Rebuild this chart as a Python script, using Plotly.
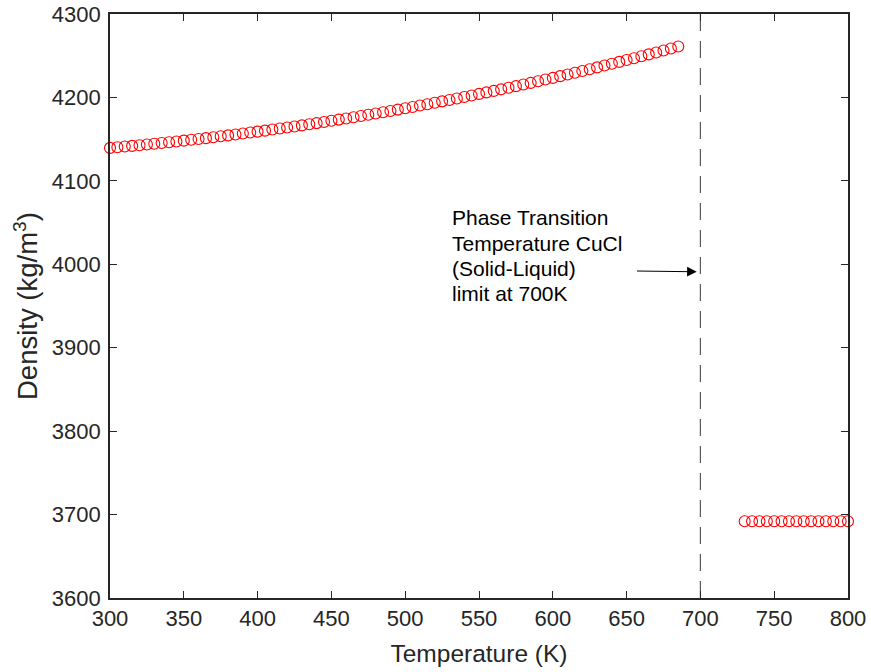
import plotly.graph_objects as go

# Solid-phase CuCl density (K, kg/m^3)
temp_solid = list(range(300, 690, 5))
density_solid = [
    4139.5, 4140.3, 4141.1, 4141.9, 4142.7, 4143.6, 4144.5, 4145.4, 4146.3, 4147.2,
    4148.2, 4149.2, 4150.2, 4151.2, 4152.3, 4153.4, 4154.5, 4155.6, 4156.7, 4157.9,
    4159.0, 4160.2, 4161.5, 4162.7, 4164.0, 4165.2, 4166.5, 4167.9, 4169.2, 4170.6,
    4172.0, 4173.4, 4174.8, 4176.3, 4177.7, 4179.2, 4180.7, 4182.3, 4183.8, 4185.4,
    4187.0, 4188.6, 4190.3, 4191.9, 4193.6, 4195.3, 4197.0, 4198.8, 4200.6, 4202.3,
    4204.2, 4206.0, 4207.8, 4209.7, 4211.6, 4213.5, 4215.5, 4217.4, 4219.4, 4221.4,
    4223.4, 4225.5, 4227.5, 4229.6, 4231.7, 4233.8, 4236.0, 4238.2, 4240.3, 4242.6,
    4244.8, 4247.0, 4249.3, 4251.6, 4253.9, 4256.3, 4258.6, 4261.0,
]

# Liquid-phase CuCl density
temp_liquid = list(range(730, 805, 5))
density_liquid = [3692.0] * len(temp_liquid)

transition_temp = 700
x_ticks = [300, 350, 400, 450, 500, 550, 600, 650, 700, 750, 800]
y_ticks = [3600, 3700, 3800, 3900, 4000, 4100, 4200, 4300]

# Note text, one entry per line, with the density level of each line
note_lines = ["Phase Transition", "Temperature CuCl", "(Solid-Liquid)", "limit at 700K"]
note_line_y = [4055.5, 4025.0, 3994.5, 3964.5]
note_x = 530.5

font_family = "Liberation Sans, Arial, sans-serif"
axis_color = "#262626"

marker_style = dict(symbol="circle-open", size=11, color="#ff0000",
                    line=dict(width=1.1, color="#ff0000"))

fig = go.Figure()

# Dashed vertical line at the phase transition temperature
fig.add_trace(go.Scatter(x=[transition_temp, transition_temp], y=[3600, 4300],
                         mode="lines", showlegend=False,
                         line=dict(color="#5a5a5a", width=1.2, dash="17px,10px")))

fig.add_trace(go.Scatter(x=temp_solid, y=density_solid, mode="markers",
                         marker=marker_style, showlegend=False, cliponaxis=False))
fig.add_trace(go.Scatter(x=temp_liquid, y=density_liquid, mode="markers",
                         marker=marker_style, showlegend=False, cliponaxis=False))

for line_text, line_y in zip(note_lines, note_line_y):
    fig.add_annotation(
        x=note_x, y=line_y, xref="x", yref="y", xanchor="left", yanchor="middle",
        align="left", showarrow=False, text=line_text,
        font=dict(family=font_family, size=21, color="#000000"),
    )

fig.add_annotation(
    x=697.5, y=3991, ax=656, ay=3992, xref="x", yref="y", axref="x", ayref="y",
    text="", showarrow=True, arrowhead=2, arrowsize=1.6, arrowwidth=1.2,
    arrowcolor="#000000",
)

axis_common = dict(
    showgrid=False, zeroline=False, showline=True, linecolor=axis_color,
    linewidth=1.6, mirror="ticks", ticks="inside", ticklen=7, tickwidth=1.2,
    tickcolor=axis_color, automargin=False,
    tickfont=dict(family=font_family, size=22, color=axis_color),
)

fig.update_xaxes(range=[300, 800], tickvals=x_ticks,
                 title=dict(text="Temperature (K)", standoff=15,
                            font=dict(family=font_family, size=24.5, color=axis_color)),
                 **axis_common)
fig.update_yaxes(range=[3600, 4300], tickvals=y_ticks, ticklabelstandoff=3,
                 title=dict(text="Density (kg/m<sup>3</sup>)", standoff=6,
                            font=dict(family=font_family, size=27.5, color=axis_color)),
                 **axis_common)

fig.update_layout(
    width=871, height=672,
    margin=dict(l=110, r=23, t=14, b=74),
    plot_bgcolor="#ffffff", paper_bgcolor="#ffffff",
)

fig.write_html("out.html")
